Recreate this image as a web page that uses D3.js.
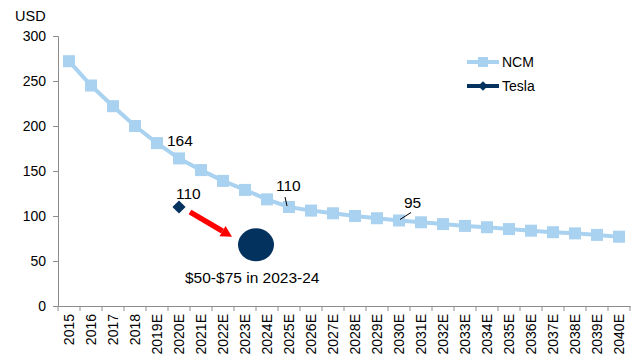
<!DOCTYPE html>
<html><head><meta charset="utf-8">
<script src="https://cdn.jsdelivr.net/npm/d3@7"></script>
<style>body{margin:0;background:#fff}svg{display:block;font-family:"Liberation Sans",Arial,sans-serif}</style>
</head><body>
<svg id="c" width="637" height="356"></svg>
<script>
const categories = ["2015","2016","2017","2018","2019E","2020E","2021E","2022E","2023E","2024E","2025E","2026E","2027E","2028E","2029E","2030E","2031E","2032E","2033E","2034E","2035E","2036E","2037E","2038E","2039E","2040E"];
const ncmValues = [272,245,222,200,181,164,151,139,129,118.5,110,106,103,100,97.5,95,93,91,89,87.5,85.5,83.7,82,80.7,79,77];
const teslaCategory = ["2020E"];
const teslaValues = [110];
const yTicks = [0,50,100,150,200,250,300];
const targetValue = 68; // "$50-$75 in 2023-24" bubble
const targetLabel = "$50-$75 in 2023-24";
const callouts = [
  {cat:"2020E", value:164, text:"164"},
  {cat:"2020E", value:110, text:"110", series:"Tesla"},
  {cat:"2025E", value:110, text:"110"},
  {cat:"2030E", value:95, text:"95"}
];

const svg = d3.select("#c");
const mLeft = 58, mRight = 630, mTop = 36, mBottom = 306;
const x = d3.scaleBand().domain(categories).range([mLeft, mRight]);
const y = d3.scaleLinear().domain([0,300]).range([mBottom, mTop]);
const cx = c => x(c) + x.bandwidth()/2;
const axisColor = "#8c8c8c";
const ncmColor = "#a9d1f0", teslaColor = "#04325f";
const FS = 14, FSC = 15.5;

// Y axis
const ya = svg.append("g").attr("transform",`translate(${mLeft},0)`)
  .call(d3.axisLeft(y).tickValues(yTicks).tickSize(5).tickPadding(7));
ya.select(".domain").attr("stroke",axisColor);
ya.selectAll(".tick line").attr("stroke",axisColor);
ya.selectAll("text").attr("font-size",FS).attr("fill","#000").attr("font-family","Liberation Sans, Arial");

// X axis
const xa = svg.append("g").attr("transform",`translate(0,${mBottom})`)
  .call(d3.axisBottom(x).tickSize(0).tickSizeOuter(0));
xa.select(".domain").attr("stroke",axisColor);
xa.selectAll(".tick text")
  .attr("font-size",FS).attr("fill","#000").attr("font-family","Liberation Sans, Arial")
  .attr("transform","rotate(-90)").attr("text-anchor","end")
  .attr("x",-8).attr("y",0).attr("dy","0.35em");
// boundary ticks
const bounds = categories.map(c => x(c)).concat([mRight]);
svg.append("g").selectAll("line").data(bounds).join("line")
  .attr("x1",d=>d).attr("x2",d=>d).attr("y1",mBottom).attr("y2",mBottom+5)
  .attr("stroke",axisColor);

svg.append("text").attr("x",15).attr("y",21).attr("font-size",14.5).text("USD");

// NCM line
const line = d3.line().x((d,i)=>cx(categories[i])).y(d=>y(d));
svg.append("path").datum(ncmValues).attr("d",line)
  .attr("fill","none").attr("stroke",ncmColor).attr("stroke-width",4);
svg.append("g").selectAll("rect").data(ncmValues).join("rect")
  .attr("x",(d,i)=>cx(categories[i])-6).attr("y",d=>y(d)-6)
  .attr("width",12).attr("height",12).attr("fill",ncmColor);

// Tesla diamond
svg.append("g").selectAll("path").data(teslaValues).join("path")
  .attr("d",d3.symbol(d3.symbolDiamond2, 110)())
  .attr("transform",(d,i)=>`translate(${cx(teslaCategory[i])},${y(d)})`)
  .attr("fill",teslaColor);

// Target bubble between 2023E and 2024E
const bx = (cx("2023E")+cx("2024E"))/2;
svg.append("ellipse").attr("cx",bx).attr("cy",y(targetValue)).attr("rx",18).attr("ry",16.5).attr("fill",teslaColor);
svg.append("text").attr("x",bx-71).attr("y",y(targetValue)+38.5).attr("font-size",FSC).text(targetLabel);

// Red arrow
const ax1 = cx("2020E")+11, ay1 = y(teslaValues[0])+5;
const ax2 = bx-24, ay2 = y(targetValue)-8;
const ang = Math.atan2(ay2-ay1, ax2-ax1);
const hl = 11, hw = 6;
const bxh = ax2 - hl*Math.cos(ang), byh = ay2 - hl*Math.sin(ang);
svg.append("line").attr("x1",ax1).attr("y1",ay1).attr("x2",bxh).attr("y2",byh)
  .attr("stroke","#ff0000").attr("stroke-width",5.5);
svg.append("path").attr("fill","#ff0000").attr("d",
  `M${ax2},${ay2}L${bxh - hw*Math.sin(ang)},${byh + hw*Math.cos(ang)}L${bxh + hw*Math.sin(ang)},${byh - hw*Math.cos(ang)}Z`);

// Callouts
const lab = svg.append("g").attr("font-size",FSC);
lab.append("text").attr("x",cx("2020E")-12).attr("y",y(164)-12).text(callouts[0].text);
lab.append("text").attr("x",cx("2020E")-3).attr("y",y(110)-8).text(callouts[1].text);
lab.append("text").attr("x",cx("2025E")-13).attr("y",y(110)-16).text(callouts[2].text);
lab.append("line").attr("x1",cx("2025E")-4).attr("y1",y(110)-10).attr("x2",cx("2025E")-2).attr("y2",y(110)-1).attr("stroke","#000");
lab.append("text").attr("x",cx("2030E")+5).attr("y",y(95)-13).text(callouts[3].text);
lab.append("line").attr("x1",cx("2030E")+12).attr("y1",y(95)-8).attr("x2",cx("2030E")+1).attr("y2",y(95)-1).attr("stroke","#000");

// Legend
const lg = svg.append("g").attr("font-size",FS);
lg.append("line").attr("x1",467).attr("x2",499).attr("y1",62).attr("y2",62).attr("stroke",ncmColor).attr("stroke-width",4);
lg.append("rect").attr("x",478).attr("y",57).attr("width",10).attr("height",10).attr("fill",ncmColor);
lg.append("text").attr("x",502).attr("y",62).attr("dy","0.35em").text("NCM");
lg.append("line").attr("x1",467).attr("x2",499).attr("y1",86).attr("y2",86).attr("stroke",teslaColor).attr("stroke-width",4);
lg.append("path").attr("d",d3.symbol(d3.symbolDiamond2,60)()).attr("transform","translate(483,86)").attr("fill",teslaColor);
lg.append("text").attr("x",502).attr("y",86).attr("dy","0.35em").text("Tesla");
</script>
</body></html>
